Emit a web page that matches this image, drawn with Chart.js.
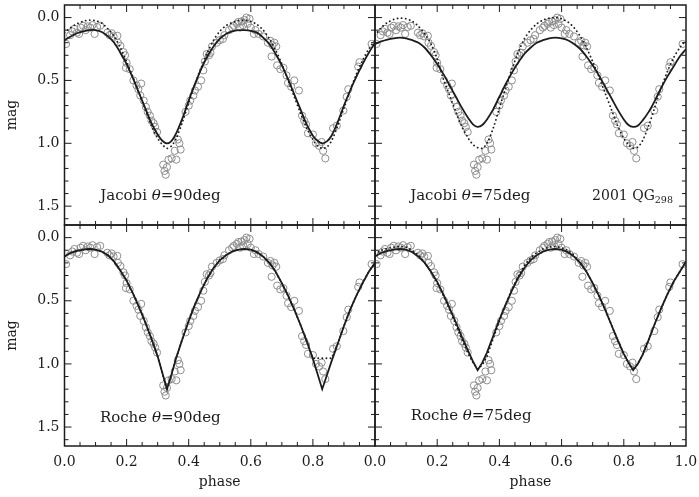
<!DOCTYPE html>
<html>
<head>
<meta charset="utf-8">
<script src="https://cdn.jsdelivr.net/npm/chart.js@4.4.0/dist/chart.umd.min.js"></script>
<style>
  html, body { margin: 0; padding: 0; background: #fff; }
  #wrap { position: relative; width: 699px; height: 497px; }
  #wrap canvas { position: absolute; left: 0; top: 0; }
</style>
</head>
<body>
<div id="wrap">
  <canvas id="tl" width="699" height="497"></canvas>
  <canvas id="tr" width="699" height="497"></canvas>
  <canvas id="bl" width="699" height="497"></canvas>
  <canvas id="br" width="699" height="497"></canvas>
</div>
<script>
// observed light curve of 2001 QG298 (same points in all four panels)
const obsPhase = [
  0.005, 0.018, 0.025, 0.032, 0.04, 0.047, 0.052, 0.06, 0.068, 0.075, 0.083, 0.09, 0.097, 0.105, 0.115,
  0.138, 0.145, 0.152, 0.158, 0.17, 0.172, 0.18, 0.19, 0.195, 0.2, 0.198, 0.21, 0.222, 0.232, 0.247,
  0.238, 0.244, 0.255, 0.262, 0.268, 0.275, 0.28, 0.287, 0.292, 0.298,
  0.318, 0.322, 0.326, 0.33, 0.335, 0.345, 0.36, 0.355, 0.37, 0.374, 0.365,
  0.39, 0.4, 0.405, 0.415, 0.42, 0.43, 0.44, 0.447, 0.452, 0.458, 0.465, 0.47, 0.475, 0.49, 0.5,
  0.51, 0.515, 0.53, 0.54, 0.545,
  0.555, 0.56, 0.565, 0.57, 0.575, 0.58, 0.586, 0.59, 0.596, 0.6, 0.61, 0.615, 0.625, 0.64,
  0.655, 0.663, 0.67, 0.676, 0.682, 0.667, 0.685, 0.695, 0.705, 0.715, 0.72, 0.73, 0.74, 0.755,
  0.765, 0.772, 0.778, 0.784,
  0.8, 0.81, 0.82, 0.828, 0.833, 0.84,
  0.865, 0.877, 0.898, 0.909, 0.914, 0.946, 0.95, 0.989
];
const obsMag = [
  0.21, 0.14, 0.11, 0.09, 0.12, 0.13, 0.08, 0.065, 0.1, 0.07, 0.08, 0.06, 0.13, 0.075, 0.065,
  0.12, 0.14, 0.125, 0.15, 0.145, 0.2, 0.225, 0.275, 0.3, 0.36, 0.4, 0.41, 0.5, 0.54, 0.525,
  0.57, 0.62, 0.66, 0.71, 0.75, 0.78, 0.82, 0.84, 0.87, 0.91,
  1.17, 1.22, 1.25, 1.19, 1.13, 1.12, 1.13, 1.06, 1.0, 1.05, 0.97,
  0.75, 0.7, 0.66, 0.62, 0.58, 0.55, 0.5, 0.42, 0.35, 0.29, 0.3, 0.28, 0.23, 0.2, 0.18,
  0.17, 0.14, 0.1, 0.08, 0.065,
  0.05, 0.035, 0.08, 0.03, 0.06, 0.02, 0.0, 0.05, 0.01, 0.08, 0.13, 0.1, 0.13, 0.15,
  0.2, 0.185, 0.22, 0.2, 0.23, 0.31, 0.38, 0.41, 0.4, 0.46, 0.52, 0.55, 0.5, 0.58,
  0.78, 0.82, 0.85, 0.92,
  0.93, 1.0, 1.02, 0.99, 1.06, 1.12,
  0.88, 0.86, 0.74, 0.63, 0.57, 0.39, 0.355, 0.21
];

// model curves, all sampled on the same phases
const modelPhase = [
  0, 0.02, 0.04, 0.06, 0.08, 0.1, 0.12, 0.14, 0.16, 0.18, 0.2, 0.22, 0.24, 0.26, 0.28, 0.3,
  0.315, 0.33, 0.345,
  0.36, 0.38, 0.4, 0.42, 0.44, 0.46, 0.48, 0.5, 0.52, 0.54, 0.56, 0.58, 0.6, 0.62, 0.64, 0.66,
  0.68, 0.7, 0.72, 0.74, 0.76, 0.78, 0.8,
  0.815, 0.83, 0.845,
  0.86, 0.88, 0.9, 0.92, 0.94, 0.96, 0.98, 1.0
];
const jacobi90Solid = [
  0.18, 0.15, 0.125, 0.11, 0.1, 0.1, 0.115, 0.15, 0.2, 0.28, 0.37, 0.48, 0.6, 0.72, 0.84, 0.93,
  0.98, 1.0, 0.98,
  0.92, 0.8, 0.66, 0.53, 0.41, 0.31, 0.23, 0.17, 0.13, 0.11, 0.1, 0.1, 0.105, 0.12, 0.16, 0.21,
  0.29, 0.38, 0.49, 0.61, 0.73, 0.85, 0.94,
  0.98, 1.0, 0.985,
  0.94, 0.83, 0.7, 0.58, 0.47, 0.37, 0.28, 0.2
];
const jacobi90Dotted = [
  0.12, 0.08, 0.05, 0.03, 0.02, 0.025, 0.045, 0.09, 0.15, 0.24, 0.35, 0.47, 0.6, 0.73, 0.86, 0.96,
  1.01, 1.04, 1.02,
  0.96, 0.83, 0.68, 0.53, 0.4, 0.28, 0.18, 0.11, 0.065, 0.04, 0.025, 0.02, 0.03, 0.055, 0.1, 0.17,
  0.26, 0.37, 0.5, 0.63, 0.76, 0.88, 0.97,
  1.02, 1.04, 1.03,
  0.98, 0.86, 0.72, 0.58, 0.45, 0.34, 0.25, 0.18
];
const jacobi75Solid = [
  0.21, 0.19, 0.175, 0.165, 0.16, 0.165, 0.18, 0.2, 0.24, 0.3, 0.37, 0.45, 0.54, 0.63, 0.72, 0.8,
  0.85, 0.87, 0.855,
  0.81, 0.73, 0.63, 0.53, 0.44, 0.36, 0.29, 0.24, 0.2, 0.18, 0.165, 0.16, 0.165, 0.18, 0.21, 0.25,
  0.31, 0.38, 0.46, 0.55, 0.64, 0.73, 0.81,
  0.855, 0.87, 0.86,
  0.82, 0.75, 0.66, 0.56, 0.47, 0.39, 0.31, 0.25
];
const jacobi75Dotted = [
  0.14, 0.08, 0.04, 0.015, 0.005, 0.01, 0.03, 0.07, 0.13, 0.21, 0.33, 0.49, 0.62, 0.75, 0.87, 0.96,
  1.01, 1.035, 1.04,
  1.0, 0.88, 0.72, 0.56, 0.41, 0.28, 0.17, 0.1, 0.05, 0.02, 0.005, 0.0, 0.01, 0.035, 0.08, 0.15,
  0.24, 0.35, 0.47, 0.6, 0.73, 0.86, 0.96,
  1.01, 1.04, 1.03,
  0.98, 0.86, 0.71, 0.56, 0.43, 0.32, 0.24, 0.18
];
const roche90Solid = [
  0.15, 0.12, 0.105, 0.095, 0.09, 0.095, 0.11, 0.14, 0.19, 0.26, 0.34, 0.44, 0.55, 0.67, 0.8, 0.94,
  1.07, 1.2, 1.08,
  0.95, 0.8, 0.66, 0.53, 0.42, 0.32, 0.24, 0.18, 0.14, 0.11, 0.095, 0.09, 0.095, 0.115, 0.15, 0.2,
  0.27, 0.36, 0.46, 0.57, 0.69, 0.82, 0.96,
  1.08, 1.2, 1.09,
  0.98, 0.84, 0.7, 0.57, 0.46, 0.36, 0.27, 0.2
];
const roche90Dotted = [
  0.15, 0.12, 0.105, 0.095, 0.09, 0.095, 0.11, 0.14, 0.19, 0.26, 0.34, 0.44, 0.55, 0.67, 0.8, 0.94,
  1.07, 1.21, 1.08,
  0.95, 0.8, 0.66, 0.53, 0.42, 0.32, 0.24, 0.18, 0.14, 0.11, 0.095, 0.09, 0.095, 0.115, 0.15, 0.2,
  0.27, 0.36, 0.46, 0.57, 0.69, 0.82, 0.955,
  0.955, 0.955, 0.955,
  0.955, 0.84, 0.7, 0.57, 0.46, 0.36, 0.27, 0.2
];
const roche75Solid = [
  0.15, 0.12, 0.105, 0.095, 0.09, 0.095, 0.115, 0.15, 0.2, 0.27, 0.35, 0.45, 0.56, 0.67, 0.79, 0.9,
  0.98, 1.05, 0.99,
  0.91, 0.78, 0.65, 0.53, 0.42, 0.32, 0.24, 0.18, 0.14, 0.11, 0.095, 0.09, 0.095, 0.115, 0.15, 0.2,
  0.27, 0.36, 0.46, 0.57, 0.69, 0.81, 0.92,
  0.99, 1.05, 1.0,
  0.93, 0.81, 0.68, 0.56, 0.45, 0.35, 0.27, 0.19
];
const roche75Dotted = [
  0.13, 0.1, 0.085, 0.075, 0.07, 0.075, 0.1, 0.14, 0.2, 0.27, 0.36, 0.46, 0.57, 0.69, 0.81, 0.92,
  0.99, 1.04, 1.01,
  0.94, 0.8, 0.66, 0.53, 0.41, 0.31, 0.22, 0.16, 0.12, 0.09, 0.075, 0.07, 0.08, 0.1, 0.14, 0.2,
  0.27, 0.36, 0.46, 0.57, 0.69, 0.81, 0.92,
  0.99, 1.04, 1.0,
  0.93, 0.81, 0.68, 0.56, 0.45, 0.35, 0.27, 0.19
];

const phaseTicks = [0, 0.2, 0.4, 0.6, 0.8, 1.0];
const magTicks = [0, 0.5, 1.0, 1.5];

const FONT = 'DejaVu Serif';
const INK = '#1c1c1c';
const W = 699, H = 497;
const LEFT = 64.5, MID = 375, RIGHT = 686, TOP = 4, HMID = 225, BOTTOM = 446;

const pts = (xs, ys) => xs.map((p, i) => ({ x: p, y: ys[i] }));

// frame with inward ticks on all four sides
const framePlugin = {
  id: 'frame',
  afterDatasetsDraw(chart) {
    const { ctx, chartArea: a, scales: { x, y } } = chart;
    ctx.save();
    ctx.strokeStyle = INK;
    ctx.lineWidth = 1;
    ctx.beginPath();
    for (let i = 1; i < 20; i++) {
      const px = x.getPixelForValue(i * 0.05);
      const len = i % 4 === 0 ? 7 : 4;
      ctx.moveTo(px, a.bottom); ctx.lineTo(px, a.bottom - len);
      ctx.moveTo(px, a.top); ctx.lineTo(px, a.top + len);
    }
    for (let i = 0; i <= 16; i++) {
      const py = y.getPixelForValue(i * 0.1);
      const len = i % 5 === 0 ? 7 : 4;
      ctx.moveTo(a.left, py); ctx.lineTo(a.left + len, py);
      ctx.moveTo(a.right, py); ctx.lineTo(a.right - len, py);
    }
    ctx.stroke();
    ctx.lineWidth = 1.5;
    ctx.strokeRect(a.left, a.top, a.right - a.left, a.bottom - a.top);
    ctx.restore();
  }
};

// panel caption, placed in data coordinates
const textPlugin = {
  id: 'panelText',
  afterDraw(chart, args, opts) {
    const { ctx, scales: { x, y } } = chart;
    ctx.save();
    ctx.fillStyle = INK;
    ctx.textBaseline = 'alphabetic';
    (opts.groups || []).forEach(g => {
      let px = x.getPixelForValue(g.phase);
      const py = y.getPixelForValue(g.mag);
      g.parts.forEach(p => {
        const size = p.sub ? 9.5 : (g.size || 14);
        ctx.font = (p.italic ? 'italic ' : '') + size + 'px "' + FONT + '"';
        ctx.fillText(p.t, px, py + (p.sub ? 3 : 0));
        px += ctx.measureText(p.t).width;
      });
    });
    ctx.restore();
  }
};

function makePanel(id, cfg) {
  const tickFont = { family: FONT, size: 14 };
  const tension = cfg.tension;
  new Chart(document.getElementById(id), {
    type: 'scatter',
    data: {
      datasets: [
        { data: pts(modelPhase, cfg.solid), showLine: true, borderColor: INK, borderWidth: 1.8,
          pointRadius: 0, tension: tension, order: 1 },
        { data: pts(modelPhase, cfg.dotted), showLine: true, borderColor: INK, borderWidth: 1.8,
          borderDash: [0.1, 4], borderCapStyle: 'round', pointRadius: 0, tension: tension, order: 2 },
        { data: pts(obsPhase, obsMag), pointRadius: 3.6, pointStyle: 'circle',
          backgroundColor: 'rgba(0,0,0,0)', borderColor: '#8e8e8e', borderWidth: 1, order: 3 }
      ]
    },
    options: {
      responsive: false,
      animation: false,
      events: [],
      layout: { padding: { left: cfg.left === LEFT ? 0 : cfg.left, right: W - cfg.right, top: cfg.top,
                           bottom: cfg.showX ? 0 : H - cfg.bottom } },
      plugins: {
        legend: { display: false },
        tooltip: { enabled: false },
        panelText: { groups: cfg.text }
      },
      scales: {
        x: {
          type: 'linear', min: 0, max: 1,
          grid: { display: false, drawTicks: false }, border: { display: false },
          ticks: { display: cfg.showX, font: tickFont, color: INK, padding: 8, autoSkip: false, maxRotation: 0,
                   callback: v => (cfg.hideLastX && v === 1) ? '' : Number(v).toFixed(1) },
          title: { display: cfg.showX, text: 'phase', font: tickFont, color: INK, padding: { top: 0, bottom: 6 } },
          afterBuildTicks: s => { s.ticks = phaseTicks.map(v => ({ value: v })); },
          afterFit: s => { s.height = cfg.showX ? H - cfg.bottom : 0; s.paddingLeft = 0; s.paddingRight = 0; }
        },
        y: {
          type: 'linear', min: -0.1, max: 1.65, reverse: true,
          grid: { display: false, drawTicks: false }, border: { display: false },
          ticks: { display: cfg.showY, font: tickFont, color: INK, padding: 5,
                   callback: v => Number(v).toFixed(1) },
          title: { display: cfg.showY, text: 'mag', font: tickFont, color: INK, padding: { top: 4, bottom: 0 } },
          afterBuildTicks: s => { s.ticks = magTicks.map(v => ({ value: v })); },
          afterFit: s => { s.width = cfg.showY ? LEFT : 0; s.paddingTop = 0; s.paddingBottom = 0; }
        }
      }
    },
    plugins: [framePlugin, textPlugin]
  });
}

makePanel('tl', {
  left: LEFT, right: MID, top: TOP, bottom: HMID, showY: true, showX: false, tension: 0.3,
  solid: jacobi90Solid, dotted: jacobi90Dotted,
  text: [{ phase: 0.115, mag: 1.45, size: 15, parts: [{ t: 'Jacobi ' }, { t: 'θ', italic: true }, { t: '=90deg' }] }]
});
makePanel('tr', {
  left: MID, right: RIGHT, top: TOP, bottom: HMID, showY: false, showX: false, tension: 0.3,
  solid: jacobi75Solid, dotted: jacobi75Dotted,
  text: [
    { phase: 0.113, mag: 1.45, size: 15, parts: [{ t: 'Jacobi ' }, { t: 'θ', italic: true }, { t: '=75deg' }] },
    { phase: 0.698, mag: 1.45, size: 14, parts: [{ t: '2001 QG' }, { t: '298', sub: true }] }
  ]
});
makePanel('bl', {
  left: LEFT, right: MID, top: HMID, bottom: BOTTOM, showY: true, showX: true, hideLastX: true, tension: 0,
  solid: roche90Solid, dotted: roche90Dotted,
  text: [{ phase: 0.114, mag: 1.46, size: 15, parts: [{ t: 'Roche ' }, { t: 'θ', italic: true }, { t: '=90deg' }] }]
});
makePanel('br', {
  left: MID, right: RIGHT, top: HMID, bottom: BOTTOM, showY: false, showX: true, tension: 0,
  solid: roche75Solid, dotted: roche75Dotted,
  text: [{ phase: 0.115, mag: 1.445, size: 15, parts: [{ t: 'Roche ' }, { t: 'θ', italic: true }, { t: '=75deg' }] }]
});
</script>
</body>
</html>
